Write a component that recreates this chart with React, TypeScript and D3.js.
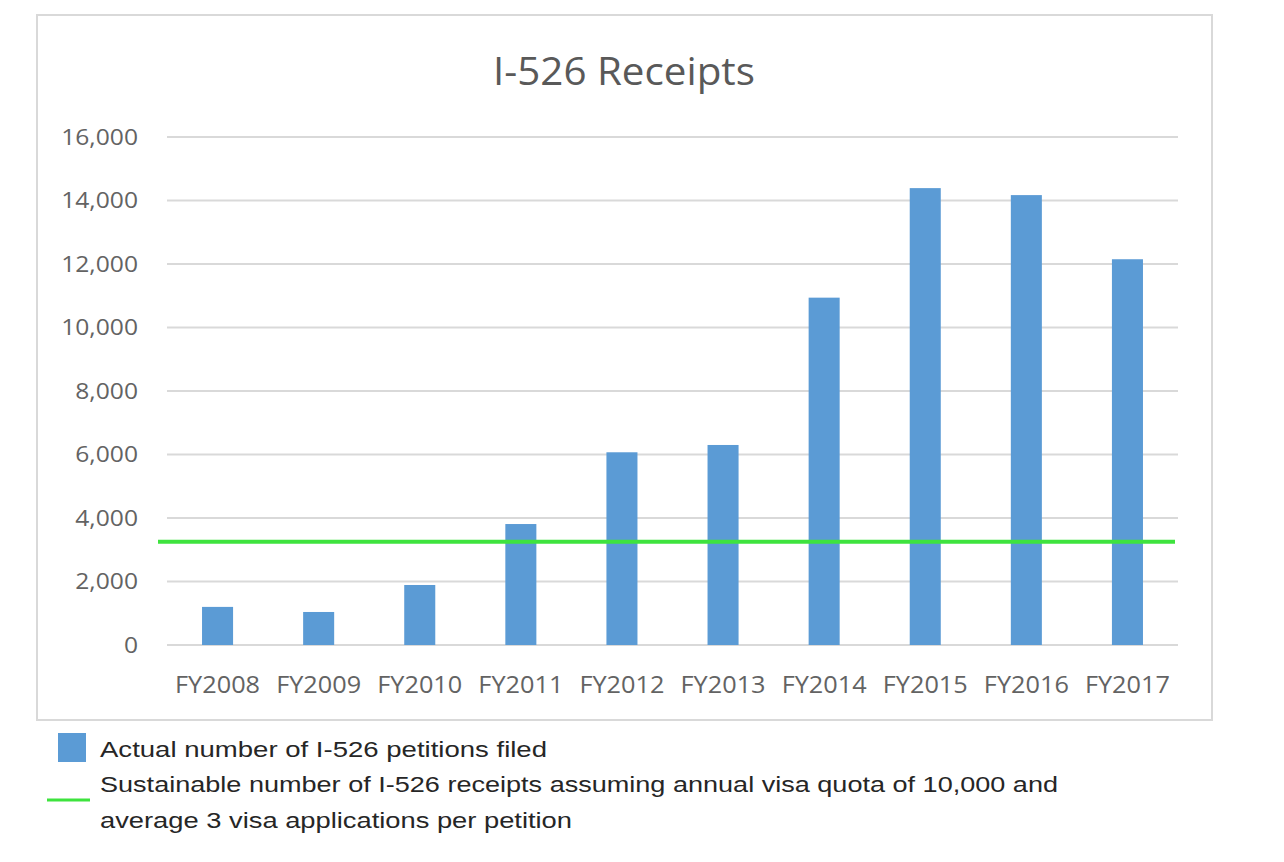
import React from "react";
import * as d3 from "d3";

const categories = ["FY2008", "FY2009", "FY2010", "FY2011", "FY2012", "FY2013", "FY2014", "FY2015", "FY2016", "FY2017"];
const petitions = [1200, 1040, 1890, 3810, 6070, 6300, 10940, 14390, 14170, 12150];
const sustainable = 3250;
const yTicks = [0, 2000, 4000, 6000, 8000, 10000, 12000, 14000, 16000];
const title = "I-526 Receipts";
const legendBar = "Actual number of I-526 petitions filed";
const legendLine1 = "Sustainable number of I-526 receipts assuming annual visa quota of 10,000 and";
const legendLine2 = "average 3 visa applications per petition";

export default function App() {
  const x = d3.scaleBand<string>().domain(categories).range([167, 1178]).paddingInner(0.693).paddingOuter(0.3465);
  const y = d3.scaleLinear().domain([0, 16000]).range([645, 137]);
  const fmt = d3.format(",");
  const textColor = "#636363";
  const font = "'Open Sans', sans-serif";
  const legendFont = "'Liberation Sans', Arial, sans-serif";
  const [x0, x1] = x.range();
  return (
    <svg width={1284} height={862} style={{ position: "absolute", left: 0, top: 0, background: "#fff" }}>
      <rect x={0} y={0} width={1284} height={862} fill="#fff" />
      <rect x={37} y={15} width={1175} height={705} fill="#fff" stroke="#d9d9d9" strokeWidth={2} />
      <text x={624} y={85} textAnchor="middle" fontFamily={font} fontSize={38} fill="#595959" textLength={262} lengthAdjust="spacingAndGlyphs">{title}</text>
      {yTicks.map((t) => (
        <g key={t}>
          <line x1={x0} x2={x1} y1={y(t)} y2={y(t)} stroke="#d9d9d9" strokeWidth={2} />
          <text x={138} y={y(t)} dy="0.35em" textAnchor="end" fontFamily={font} fontSize={22} fill={textColor} style={{ transform: `translateX(138px) scaleX(1.12) translateX(-138px)` }}>{fmt(t)}</text>
        </g>
      ))}
      {categories.map((c, i) => (
        <rect key={c} x={x(c)} y={y(petitions[i])} width={x.bandwidth()} height={y(0) - y(petitions[i])} fill="#5b9bd5" />
      ))}
      <line x1={x0 - 9} x2={x1 - 3} y1={y(sustainable)} y2={y(sustainable)} stroke="#3ee33e" strokeWidth={4} />
      {categories.map((c) => (
        <text key={c} x={(x(c) as number) + x.bandwidth() / 2} y={693} textAnchor="middle" fontFamily={font} fontSize={23} fill={textColor} textLength={85} lengthAdjust="spacingAndGlyphs">{c}</text>
      ))}
      <rect x={58} y={733} width={28} height={29} fill="#5b9bd5" />
      <text x={100} y={757} fontFamily={legendFont} fontSize={22} fill="#262626" textLength={447} lengthAdjust="spacingAndGlyphs">{legendBar}</text>
      <line x1={47} x2={90} y1={800} y2={800} stroke="#3ee33e" strokeWidth={3} />
      <text x={100} y={792} fontFamily={legendFont} fontSize={22} fill="#262626" textLength={958} lengthAdjust="spacingAndGlyphs">{legendLine1}</text>
      <text x={100} y={828} fontFamily={legendFont} fontSize={22} fill="#262626" textLength={472} lengthAdjust="spacingAndGlyphs">{legendLine2}</text>
    </svg>
  );
}
